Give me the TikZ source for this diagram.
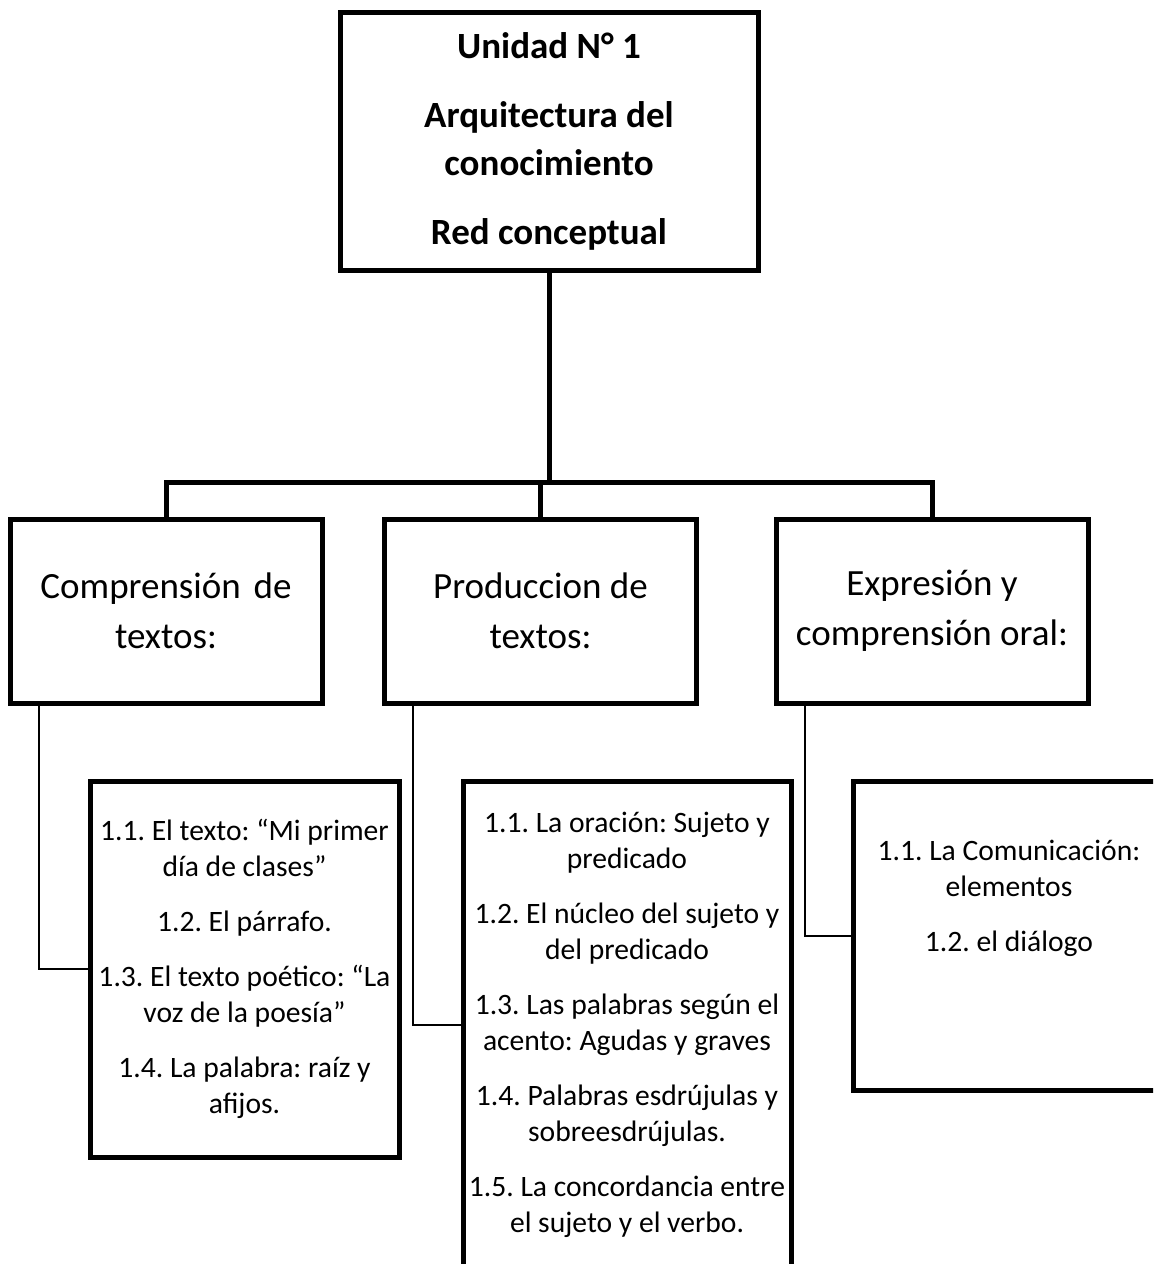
\documentclass[tikz,border=0pt]{standalone}
\usepackage{fontspec}
\setmainfont{Carlito}
\usepackage{tikz}
\frenchspacing

\tikzset{
    topbox/.style   = {draw, line width=2.5pt, minimum width=209pt, minimum height=129pt, align=center, inner sep=0pt,
                       font=\bfseries\fontsize{18.5}{24}\selectfont},
    areabox/.style  = {draw, line width=2.5pt, minimum width=156pt, minimum height=92pt, align=center, inner sep=0pt,
                       font=\fontsize{18.5}{25}\selectfont},
    itembox/.style  = {draw, line width=2.5pt, align=center, inner sep=0pt,
                       font=\fontsize{14.8}{18}\selectfont},
    itemtext/.style = {align=center, inner sep=0pt, font=\fontsize{14.8}{18}\selectfont},
    busline/.style  = {line width=2.5pt},
    link/.style     = {line width=1pt},
}

\begin{document}
\begin{tikzpicture}[x=0.5pt, y=-0.5pt]
        \def\Ay{611 } % area boxes, centre height
        \def\By{482 } % bus height
        \def\Lx{15.5pt} % link offset from left side

        \clip (0,0) rectangle (1153,1264);

        % Top box
        \node[topbox] (unit) at (549,141) {Unidad N° 1\\[10.5pt] Arquitectura del\\ conocimiento\\[10.5pt] Red conceptual};

        % Area boxes
        \node[areabox] (comp) at (166,\Ay)   {Comprensión\hspace{0.12em} de\\ textos:};
        \node[areabox] (prod) at (540.5,\Ay) {Produccion de\\ textos:};
        \node[areabox] (expr) at (932,\Ay)   {Expresión y\\ comprensión oral:};

        % Item boxes
        \node[itembox, minimum width=154.5pt, minimum height=188pt] (compitems) at (244.5,969)
            {1.1. El texto: “Mi primer\\ día de clases”\\[9.5pt] 1.2. El párrafo.\\[9.5pt]
             1.3. El texto poético: “La\\ voz de la poesía”\\[9.5pt] 1.4. La palabra: raíz y\\ afijos.};
        \node[itembox, minimum width=164pt, minimum height=243.5pt] (proditems) at (627,1024.5)
            {1.1. La oración: Sujeto y\\ predicado\\[9.5pt] 1.2. El núcleo del sujeto y\\ del predicado\\[9.5pt]
             1.3. Las palabras según el\\ acento: Agudas y graves\\[9.5pt] 1.4. Palabras esdrújulas y\\ sobreesdrújulas.\\[9.5pt]
             1.5. La concordancia entre\\ el sujeto y el verbo.};
        \node[itembox, minimum width=156pt, minimum height=154.5pt] (expritems) at (1009,935.5) {};
        \node[itemtext] (exprtext) at (1009,898) {1.1. La Comunicación:\\ elementos\\[9.5pt] 1.2. el diálogo};

        % Bus
        \coordinate (split) at (549,\By);
        \draw[busline] (unit.south) -- (split);
        \draw[busline] (comp.north) |- (split) -| (expr.north);
        \draw[busline] (prod.north) -- (prod.north |- split);

        % Links
        \draw[link] ([xshift=\Lx]comp.south west) |- (compitems.west);
        \draw[link] ([xshift=\Lx]prod.south west) |- (proditems.west);
        \draw[link] ([xshift=\Lx]expr.south west) |- (expritems.west);
\end{tikzpicture}
\end{document}
